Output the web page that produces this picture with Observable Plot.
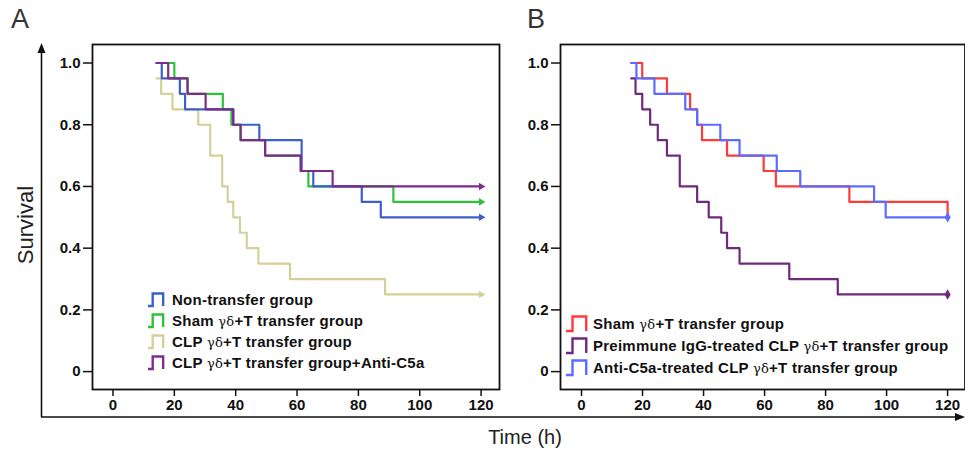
<!DOCTYPE html>
<html><head><meta charset="utf-8">
<script src="https://cdn.jsdelivr.net/npm/d3@7"></script>
<script src="https://cdn.jsdelivr.net/npm/@observablehq/plot@0.6"></script>
<style>
body{margin:0;background:#fff;font-family:"Liberation Sans",Arial,sans-serif}
#root{position:relative;width:965px;height:452px;overflow:hidden;background:#fff}
.pl{position:absolute;top:0}
.leg{position:absolute;font-weight:bold;font-size:15px;letter-spacing:0.25px;color:#111;white-space:nowrap;line-height:17px}
.leg .row{position:absolute;left:0;white-space:nowrap}
.leg svg{position:absolute;left:0;top:0}
.gd{font-weight:normal;font-family:"DejaVu Serif",serif;font-size:13px}
.lab{position:absolute;color:#222;font-size:20px}
</style></head>
<body><div id="root"></div>
<script>
// ---------- Data ----------
const tickValuesX = [0, 20, 40, 60, 80, 100, 120];
const tickValuesY = [0, 0.2, 0.4, 0.6, 0.8, 1.0];

// Panel A
const aNonTransferT = [14.2, 15.9, 21.8, 23.5, 39.2, 47.7, 61.5, 65.3, 81.1, 87.3, 120];
const aNonTransferS = [1.0, 0.95, 0.90, 0.85, 0.80, 0.75, 0.65, 0.60, 0.55, 0.50, 0.50];
const aShamT = [14.2, 20.0, 24.3, 35.8, 38.6, 41.6, 49.6, 61.2, 63.7, 91.4, 120];
const aShamS = [1.0, 0.95, 0.90, 0.85, 0.80, 0.75, 0.70, 0.65, 0.60, 0.55, 0.55];
const aClpT = [14.2, 15.7, 19.4, 27.8, 31.7, 35.6, 37.4, 39.2, 41.4, 43.6, 47.4, 57.7, 88.7, 120];
const aClpS = [0.95, 0.90, 0.85, 0.80, 0.70, 0.60, 0.55, 0.50, 0.45, 0.40, 0.35, 0.30, 0.25, 0.25];
const aClpC5aT = [14.2, 18.0, 24.3, 30.2, 39.2, 41.6, 49.6, 61.2, 71.6, 120];
const aClpC5aS = [1.0, 0.95, 0.90, 0.85, 0.80, 0.75, 0.70, 0.65, 0.60, 0.60];

// Panel B
const bShamT = [16.3, 19.9, 28.0, 35.6, 37.9, 39.5, 47.7, 59.7, 63.7, 87.8, 120];
const bShamS = [1.0, 0.95, 0.90, 0.85, 0.80, 0.75, 0.70, 0.65, 0.60, 0.55, 0.50];
const bIgGT = [16.3, 17.7, 19.9, 22.5, 25.0, 28.0, 32.2, 37.9, 41.7, 45.8, 47.7, 51.8, 68.1, 84.0, 120];
const bIgGS = [0.95, 0.90, 0.85, 0.80, 0.75, 0.70, 0.60, 0.55, 0.50, 0.45, 0.40, 0.35, 0.30, 0.25, 0.25];
const bAntiT = [16.3, 18.0, 23.9, 34.0, 37.9, 45.5, 51.8, 64.0, 71.7, 95.9, 99.7, 120];
const bAntiS = [1.0, 0.95, 0.90, 0.85, 0.80, 0.75, 0.70, 0.65, 0.60, 0.55, 0.50, 0.50];

const colorsA = {non: "#3d5fcc", sham: "#2fc13a", clp: "#d4d09a", c5a: "#7d2b8c"};
const colorsB = {sham: "#ff3a3a", igg: "#6f2a7c", anti: "#5b6cff"};

const legendA = [
  {color: colorsA.non, parts: ["Non-transfer group"]},
  {color: colorsA.sham, parts: ["Sham ", "γδ", "+T transfer group"]},
  {color: colorsA.clp, parts: ["CLP ", "γδ", "+T transfer group"]},
  {color: colorsA.c5a, parts: ["CLP ", "γδ", "+T transfer group+Anti-C5a"]}
];
const legendB = [
  {color: colorsB.sham, parts: ["Sham ", "γδ", "+T transfer group"]},
  {color: colorsB.igg, parts: ["Preimmune IgG-treated CLP ", "γδ", "+T transfer group"]},
  {color: colorsB.anti, parts: ["Anti-C5a-treated CLP ", "γδ", "+T transfer group"]}
];

// ---------- Helpers ----------
const pts = (T, S) => T.map((t, i) => ({t, s: S[i]}));
const last = (T, S) => [{t: T[T.length - 1], s: S[S.length - 1]}];

const commonStyle = {fontSize: "15px", fontWeight: "bold", fontFamily: "Liberation Sans, Arial, sans-serif", color: "#111", background: "transparent", overflow: "visible"};
const yFmt = d => d === 0 ? "0" : d.toFixed(1);
const yDom = [-0.058, 1.060];

function panel(opts) {
  return Plot.plot({
    width: opts.width, height: 452,
    marginLeft: opts.ml, marginRight: opts.mr, marginTop: 44, marginBottom: 63,
    x: {domain: opts.xdom},
    y: {domain: yDom},
    style: commonStyle,
    marks: [
      Plot.axisX({ticks: tickValuesX, tickSize: 7, tickPadding: 3, label: null, strokeWidth: 1.5}),
      Plot.axisY({ticks: tickValuesY, tickFormat: yFmt, tickSize: 9, tickPadding: 3, label: null, strokeWidth: 1.5}),
      ...opts.series.map(sr => Plot.line(pts(sr.T, sr.S), {x: "t", y: "s", curve: "step-after", stroke: sr.color, strokeWidth: 2.2})),
      ...opts.series.filter(sr => sr.end).map(sr => Plot.dot(last(sr.T, sr.S), {x: "t", y: "s", fill: sr.color, stroke: "none", r: sr.end === "dot" ? 3.2 : 2.8, symbol: sr.end === "dot" ? "diamond" : "triangle", rotate: sr.end === "dot" ? 0 : 90})),
      Plot.frame({stroke: "#111", strokeWidth: 1.8})
    ]
  });
}

const root = document.getElementById("root");

const pa = panel({
  width: 510, ml: 92, mr: 11, xdom: [-6.68, 126.0],
  series: [
    {T: aClpT, S: aClpS, color: colorsA.clp, end: "tri"},
    {T: aShamT, S: aShamS, color: colorsA.sham, end: "tri"},
    {T: aNonTransferT, S: aNonTransferS, color: colorsA.non, end: "tri"},
    {T: aClpC5aT, S: aClpC5aS, color: colorsA.c5a, end: "tri"}
  ]
});
pa.classList.add("pl"); pa.style.left = "0px";
root.appendChild(pa);

const pb = panel({
  width: 496, ml: 90, mr: 1.5, xdom: [-6.89, 125.7],
  series: [
    {T: bIgGT, S: bIgGS, color: colorsB.igg, end: "dot"},
    {T: bShamT, S: bShamS, color: colorsB.sham},
    {T: bAntiT, S: bAntiS, color: colorsB.anti, end: "dot"}
  ]
});
pb.classList.add("pl"); pb.style.left = "470px";
root.appendChild(pb);

// Legends
function legend(items, left, top, step, iconW, iconH, textX) {
  const d = document.createElement("div");
  d.className = "leg";
  d.style.left = left + "px"; d.style.top = top + "px";
  items.forEach((it, i) => {
    const r = document.createElement("div");
    r.className = "row";
    r.style.top = (i * step) + "px";
    r.style.height = "18px";
    const w = iconW, h = iconH;
    r.innerHTML = `<svg width="${w + 2}" height="${h + 3}" style="top:${(17 - h) / 2 - 1}px"><path d="M1,${h + 1} H${w * 0.3} V1.5 H${w * 0.85} V${h + 1}" fill="none" stroke="${it.color}" stroke-width="2.4"/></svg>` +
      `<span style="position:absolute;left:${textX}px;top:0">${it.parts.map((p, k) => p === "γδ" ? `<span class="gd">${p}</span>` : p).join("")}</span>`;
    d.appendChild(r);
  });
  root.appendChild(d);
}
legend(legendA, 147, 291, 21, 19, 13, 25);
legend(legendB, 565, 315, 22, 25, 15, 28);

// Outer axes and labels
const ov = document.createElementNS("http://www.w3.org/2000/svg", "svg");
ov.setAttribute("width", 965); ov.setAttribute("height", 452);
ov.style.position = "absolute"; ov.style.left = "0"; ov.style.top = "0";
ov.innerHTML = `
<line x1="41.5" y1="52" x2="41.5" y2="417" stroke="#111" stroke-width="1.6"/>
<polygon points="41.5,43 37.5,53 45.5,53" fill="#111"/>
<line x1="41" y1="417" x2="956" y2="417" stroke="#111" stroke-width="1.6"/>
<polygon points="965,417 955,413 955,421" fill="#111"/>`;
root.appendChild(ov);

function label(text, css) {
  const d = document.createElement("div");
  d.className = "lab"; d.textContent = text;
  Object.assign(d.style, css);
  root.appendChild(d);
}
label("A", {left: "11px", top: "4px", fontSize: "27px", color: "#333"});
label("B", {left: "527px", top: "4px", fontSize: "27px", color: "#333"});
label("Survival", {left: "26px", top: "225px", transform: "translate(-50%,-50%) rotate(-90deg)", fontSize: "22px"});
label("Time (h)", {left: "525px", top: "437px", transform: "translate(-50%,-50%)", fontSize: "20px"});
</script>
</body></html>
